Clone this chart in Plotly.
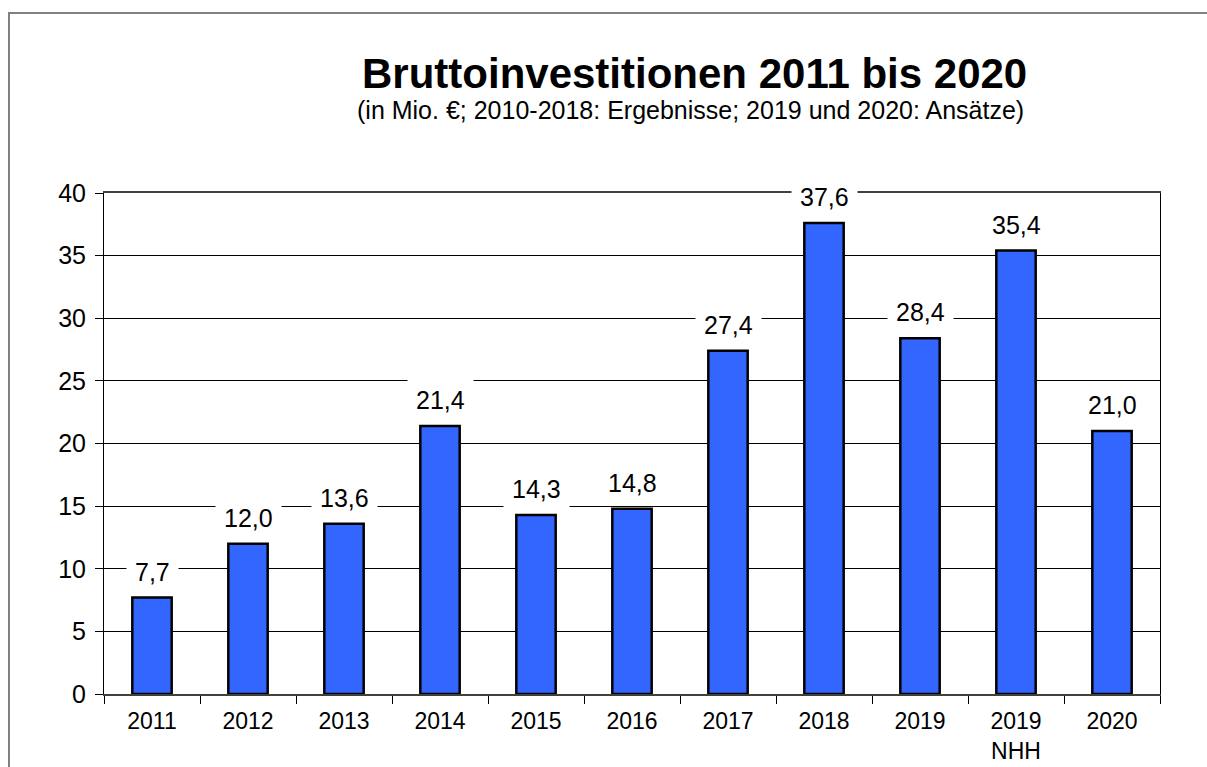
import plotly.graph_objects as go

categories = ["2011", "2012", "2013", "2014", "2015", "2016", "2017", "2018", "2019", "2019<br>NHH", "2020"]
values = [7.7, 12.0, 13.6, 21.4, 14.3, 14.8, 27.4, 37.6, 28.4, 35.4, 21.0]
y_ticks = [0, 5, 10, 15, 20, 25, 30, 35, 40]

FONT = "Arial, Liberation Sans, sans-serif"

fig = go.Figure()
fig.add_trace(go.Bar(
    x=categories, y=values,
    marker=dict(color="#3366FF", line=dict(color="black", width=2.5)),
    hoverinfo="x+y",
))

annotations = []
for i, v in enumerate(values):
    annotations.append(dict(
        x=i, y=v, xref="x", yref="y", text=f"{v:.1f}".replace(".", ","),
        showarrow=False, yanchor="bottom", yshift=3,
        font=dict(family=FONT, size=25, color="black"),
        bgcolor="white", borderpad=8,
    ))

annotations.append(dict(
    x=(694 - 104) / 1056, y=(694 - 73) / 501, xref="paper", yref="paper",
    text="<b>Bruttoinvestitionen 2011 bis 2020</b>", showarrow=False,
    xanchor="center", yanchor="middle",
    font=dict(family=FONT, size=42, color="black"),
))
annotations.append(dict(
    x=(690 - 104) / 1056, y=(694 - 110) / 501, xref="paper", yref="paper",
    text="(in Mio. €; 2010-2018: Ergebnisse; 2019 und 2020: Ansätze)", showarrow=False,
    xanchor="center", yanchor="middle",
    font=dict(family=FONT, size=25, color="black"),
))

fig.update_layout(
    width=1207, height=767,
    margin=dict(l=104, r=47, t=193, b=73),
    paper_bgcolor="white", plot_bgcolor="white",
    bargap=0.59,
    showlegend=False,
    font=dict(family=FONT, size=25, color="black"),
    annotations=annotations,
    shapes=[dict(
        type="rect", xref="paper", yref="paper",
        x0=(9 - 104) / 1056, x1=1.2, y0=-0.3, y1=(694 - 13) / 501,
        line=dict(color="#808080", width=2), fillcolor="rgba(0,0,0,0)", layer="below",
    )],
)
fig.update_xaxes(
    type="category", range=[-0.5, len(categories) - 0.5], autorange=False,
    showgrid=False, showline=True, linecolor="#404040", linewidth=2,
    mirror=True, ticks="outside", tickson="boundaries", ticklen=8, tickcolor="black",
    tickfont=dict(family=FONT, size=23, color="black"), tickangle=0,
    ticklabelstandoff=5, automargin=False,
)
fig.update_yaxes(
    range=[0, 40], tickvals=y_ticks, showgrid=True, gridcolor="black", gridwidth=1,
    showline=True, linecolor="black", linewidth=1, mirror=True,
    ticks="outside", ticklen=8, tickcolor="black", ticklabelstandoff=4,
    tickfont=dict(family=FONT, size=25, color="black"), zeroline=False,
    automargin=False,
)

fig.write_html("out.html", config={"displayModeBar": False},
               post_script="document.body.style.margin='0';document.body.style.overflow='hidden';")
